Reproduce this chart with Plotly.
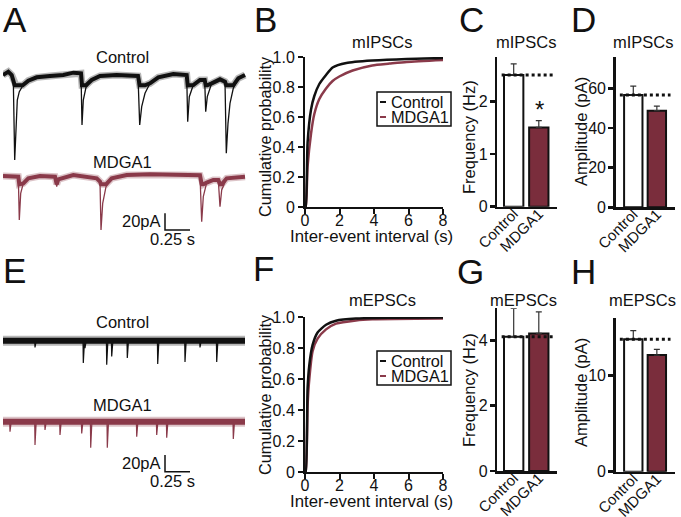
import plotly.graph_objects as go
import numpy as np

# ---------------- data ----------------
# Panel A: example mIPSC traces (time s, current pA relative to baseline)
a_ctrl_t = [0.0, 0.053, 0.087, 0.103, 0.117, 0.13, 0.143, 0.163, 0.197, 0.253, 0.337, 0.47, 0.603, 0.703,
            0.78, 0.79, 0.803, 0.83, 0.887, 0.97, 1.137, 1.35, 1.367, 1.387, 1.42, 1.47, 1.553, 1.703,
            1.837, 1.847, 1.863, 1.903, 1.97, 2.017, 2.027, 2.043, 2.087, 2.17, 2.22, 2.233, 2.25, 2.27,
            2.303, 2.353, 2.42]
a_ctrl_i = [2.4, 6.4, 2.4, -3.6, -99.6, -51.6, -27.6, -17.6, -10.8, -4.4, -0.4, 1.2, 2.4, 5.2,
            4.4, -57.6, -27.6, -12.4, -3.6, 1.2, 2.4, 1.2, -57.6, -35.6, -19.6, -7.6, -0.4, 3.6,
            2.4, -53.6, -23.6, -9.6, -3.6, -3.6, -41.6, -23.6, -7.6, -2.8, -5.6, -91.6, -55.6, -31.6,
            -13.6, -1.6, 2.4]
a_mdga_t = [0.0, 0.153, 0.163, 0.177, 0.203, 0.253, 0.37, 0.52, 0.537, 0.553, 0.703, 0.937, 0.97, 0.98,
            0.997, 1.03, 1.087, 1.237, 1.47, 1.803, 1.97, 1.987, 2.003, 2.037, 2.103, 2.153, 2.17, 2.187,
            2.237, 2.42]
a_mdga_i = [0.0, -0.8, -52.8, -20.8, -8.8, -2.8, 0.0, -0.8, -12.8, -4.0, 1.2, -2.8, -6.8, -64.8,
            -32.8, -12.8, -2.8, 1.2, 2.0, 1.2, 0.8, -54.8, -24.8, -8.0, -4.8, -4.8, -36.8, -16.8,
            -2.8, -0.8]

# Panel E: mEPSC events (time s, peak amplitude pA)
e_ctrl_t = [0.32, 0.82, 0.803, 1.037, 1.087, 1.243, 1.547, 1.82, 1.97, 2.137]
e_ctrl_a = [-8.0, -8.8, -26.8, -28.8, -18.8, -20.8, -28.0, -25.6, -8.0, -25.6]
e_mdga_t = [0.07, 0.32, 0.42, 0.57, 0.787, 0.877, 1.043, 1.337, 1.537, 1.637, 2.303]
e_mdga_a = [-12.0, -28.0, -10.0, -16.0, -14.0, -31.2, -31.2, -18.0, -16.0, -19.2, -20.8]
trace_dur = 2.42

# Panels B / F: cumulative probability of inter-event interval (s)
b_ctrl_x = [0, 0.04, 0.15, 0.35, 0.54, 0.83, 1.22, 1.6, 2.4, 3.9, 5.9, 8.0]
b_ctrl_y = [0, 0.0, 0.43, 0.65, 0.74, 0.82, 0.88, 0.93, 0.96, 0.976, 0.987, 0.993]
b_mdga_x = [0, 0.04, 0.15, 0.35, 0.54, 0.83, 1.22, 1.6, 1.99, 2.76, 3.9, 4.9, 5.9, 8.0]
b_mdga_y = [0, 0.0, 0.27, 0.49, 0.62, 0.72, 0.79, 0.84, 0.87, 0.91, 0.944, 0.956, 0.967, 0.98]
f_ctrl_x = [0, 0.04, 0.15, 0.25, 0.44, 0.73, 1.22, 1.8, 2.95, 5.0, 8.0]
f_ctrl_y = [0, 0.0, 0.54, 0.69, 0.82, 0.90, 0.95, 0.976, 0.99, 0.995, 0.997]
f_mdga_x = [0, 0.04, 0.15, 0.25, 0.44, 0.73, 1.22, 1.8, 2.95, 3.9, 8.0]
f_mdga_y = [0, 0.0, 0.43, 0.60, 0.78, 0.86, 0.92, 0.957, 0.978, 0.985, 0.99]

# Bar panels
groups = ["Control", "MDGA1"]
c_freq = [2.51, 1.51];  c_freq_err = [0.21, 0.13]     # mIPSC frequency (Hz)
d_amp = [56.6, 48.7];   d_amp_err = [4.5, 2.3]        # mIPSC amplitude (pA)
g_freq = [4.11, 4.21];  g_freq_err = [0.87, 0.66]     # mEPSC frequency (Hz)
h_amp = [13.8, 12.15];  h_amp_err = [0.9, 0.6]        # mEPSC amplitude (pA)

# ---------------- style ----------------
W, H = 681, 517
FONT = "Liberation Sans, Arial, Helvetica, sans-serif"
BLACK = "#111111"
RED_TR = "#8a3a4a"
RED_BAR = "#7a2d3c"

def fx(px):
    return px / W

def fy(py):
    return 1 - py / H

def dom_x(a, b):
    return [fx(a), fx(b)]

def dom_y(top, bottom):
    return [fy(bottom), fy(top)]

fig = go.Figure()
layout = dict(template="none", width=W, height=H, margin=dict(l=0, r=0, t=0, b=0, pad=0, autoexpand=False),
              paper_bgcolor="white", plot_bgcolor="rgba(0,0,0,0)",
              showlegend=False, font=dict(family=FONT, color=BLACK))
annotations = []
shapes = []

def ann(x, y, text, size=16, angle=0, xanchor="center", yanchor="middle"):
    annotations.append(dict(x=x, y=y, xref="paper", yref="paper", text=text, showarrow=False,
                            font=dict(size=size, family=FONT, color=BLACK), textangle=angle,
                            xanchor=xanchor, yanchor=yanchor))

# ---------------- trace panels (A, E) ----------------
PXPA = 190 / 228.0   # px per pA
for top_px, ax in [(55, 1), (300, 2)]:
    xa = "xaxis" if ax == 1 else "xaxis%d" % ax
    ya = "yaxis" if ax == 1 else "yaxis%d" % ax
    layout[xa] = dict(domain=dom_x(3, 248), range=[0, 2.45], visible=False, fixedrange=True, automargin=False)
    layout[ya] = dict(domain=dom_y(top_px, top_px + 190), range=[-228, 0], visible=False, fixedrange=True,
                      automargin=False)

def add_trace_line(t, i, off, color):
    i = np.array(i, dtype=float)
    band = np.maximum(i, -10) + off
    fig.add_trace(go.Scatter(x=t, y=band, mode="lines", xaxis="x", yaxis="y",
                             line=dict(color=color, width=7), opacity=0.3, hoverinfo="skip"))
    fig.add_trace(go.Scatter(x=t, y=band, mode="lines", xaxis="x", yaxis="y",
                             line=dict(color=color, width=4), hoverinfo="skip"))
    fig.add_trace(go.Scatter(x=t, y=i + off, mode="lines", xaxis="x", yaxis="y",
                             line=dict(color=color, width=1.3), hoverinfo="skip"))

add_trace_line(a_ctrl_t, a_ctrl_i, -(77 - 55) / PXPA, BLACK)
add_trace_line(a_mdga_t, a_mdga_i, -(176 - 55) / PXPA, RED_TR)

def add_events(ev_t, ev_a, off, color):
    order = np.argsort(ev_t)
    xs_, ys_ = [0.0], [off]
    for j in order:
        t0, a0 = ev_t[j], ev_a[j]
        xs_ += [t0 - 0.003, t0, t0 + 0.012]
        ys_ += [off, off + a0, off]
    xs_.append(trace_dur); ys_.append(off)
    fig.add_trace(go.Scatter(x=[0, trace_dur], y=[off, off], mode="lines", xaxis="x2", yaxis="y2",
                             line=dict(color=color, width=10), opacity=0.3, hoverinfo="skip"))
    fig.add_trace(go.Scatter(x=[0, trace_dur], y=[off, off], mode="lines", xaxis="x2", yaxis="y2",
                             line=dict(color=color, width=6), hoverinfo="skip"))
    fig.add_trace(go.Scatter(x=xs_, y=ys_, mode="lines", xaxis="x2", yaxis="y2",
                             line=dict(color=color, width=1.2), hoverinfo="skip"))

add_events(e_ctrl_t, e_ctrl_a, -(340.7 - 300) / PXPA, BLACK)
add_events(e_mdga_t, e_mdga_a, -(421.7 - 300) / PXPA, RED_TR)

# scale bars (20 pA, 0.25 s)
for axn, top_px, bar_bottom_px in [(1, 55, 230), (2, 300, 471.7)]:
    xs = "x" if axn == 1 else "x%d" % axn
    ys = "y" if axn == 1 else "y%d" % axn
    yb = -(bar_bottom_px - top_px) / PXPA
    t0 = (165 - 3) / 100
    fig.add_trace(go.Scatter(x=[t0, t0, t0 + 0.25], y=[yb + 20, yb, yb], mode="lines", xaxis=xs, yaxis=ys,
                             line=dict(color=BLACK, width=1.5), hoverinfo="skip"))
    ann(fx(163), fy(bar_bottom_px - 9), "20pA", size=16.5, xanchor="right")
    ann(fx(172), fy(bar_bottom_px + 9), "0.25 s", size=16.5)

ann(fx(122), fy(57), "Control", 16.5)
ann(fx(122), fy(162), "MDGA1", 16.5)
ann(fx(122), fy(322), "Control", 16.5)
ann(fx(122), fy(405), "MDGA1", 16.5)

# ---------------- cumulative panels (B, F) ----------------
def cum_axes(n, top, bottom):
    layout["xaxis%d" % n] = dict(domain=dom_x(305, 443), range=[0, 8], showline=True, linewidth=2,
                                 linecolor=BLACK, ticks="outside", ticklen=5, tickwidth=2, tickcolor=BLACK,
                                 tickvals=[0, 2, 4, 6, 8], showgrid=False, zeroline=False,
                                 ticklabelstandoff=-7,
                                 tickfont=dict(size=16), anchor="y%d" % n, fixedrange=True, automargin=False)
    layout["yaxis%d" % n] = dict(domain=dom_y(top, bottom), range=[0, 1.0], showline=True, linewidth=2,
                                 linecolor=BLACK, ticks="outside", ticklen=5, tickwidth=2, tickcolor=BLACK,
                                 tickvals=[0, 0.2, 0.4, 0.6, 0.8, 1.0],
                                 ticktext=["0", "0.2", "0.4", "0.6", "0.8", "1.0"], showgrid=False,
                                 zeroline=False, tickfont=dict(size=16), anchor="x%d" % n, fixedrange=True,
                                 automargin=False)

cum_axes(3, 57, 207)
cum_axes(4, 317, 472)
for n, cx, cy, mx, my in [(3, b_ctrl_x, b_ctrl_y, b_mdga_x, b_mdga_y), (4, f_ctrl_x, f_ctrl_y, f_mdga_x, f_mdga_y)]:
    fig.add_trace(go.Scatter(x=mx, y=my, mode="lines", xaxis="x%d" % n, yaxis="y%d" % n,
                             line=dict(color=RED_TR, width=2.5, shape="spline", smoothing=0.6),
                             hoverinfo="skip", cliponaxis=False))
    fig.add_trace(go.Scatter(x=cx, y=cy, mode="lines", xaxis="x%d" % n, yaxis="y%d" % n,
                             line=dict(color=BLACK, width=2.5, shape="spline", smoothing=0.6),
                             hoverinfo="skip", cliponaxis=False))

for top_box, title_y, ytitle_c, xtitle_y, lbl in [(92, 42, 137, 236, "mIPSCs"), (351, 300, 395, 501, "mEPSCs")]:
    shapes.append(dict(type="rect", xref="paper", yref="paper", x0=fx(377), x1=fx(451),
                       y0=fy(top_box + 34), y1=fy(top_box), line=dict(color=BLACK, width=1.5)))
    for k, (name, col) in enumerate([("Control", BLACK), ("MDGA1", RED_TR)]):
        yy = top_box + 10 + k * 15
        shapes.append(dict(type="line", xref="paper", yref="paper", x0=fx(380), x1=fx(386),
                           y0=fy(yy), y1=fy(yy), line=dict(color=col, width=2)))
        ann(fx(388.5), fy(yy), name, 16.3, xanchor="left")
    ann(fx(382), fy(title_y), lbl, 16.5)
    ann(fx(265), fy(ytitle_c), "Cumulative probability", 16.3, angle=-90)
    ann(fx(371), fy(xtitle_y), "Inter-event interval (s)", 16.8)

# ---------------- bar panels (C, D, G, H) ----------------
def bar_panel(n, xdom, xr, ydom, yr, tickvals, vals, errs, width, dot_x):
    layout["xaxis%d" % n] = dict(domain=dom_x(*xdom), range=xr, showline=True, linewidth=2.5, linecolor=BLACK,
                                 ticks="", tickvals=[0, 1], ticktext=groups, tickangle=-45,
                                 ticklabelstandoff=-10,
                                 tickfont=dict(size=15), showgrid=False, zeroline=False,
                                 anchor="y%d" % n, fixedrange=True, automargin=False)
    layout["yaxis%d" % n] = dict(domain=dom_y(*ydom), range=yr, showline=True, linewidth=2.5, linecolor=BLACK,
                                 ticks="outside", ticklen=5, tickwidth=2.5, tickcolor=BLACK,
                                 ticklabelstandoff=-1,
                                 tickvals=tickvals, tickfont=dict(size=16), showgrid=False, zeroline=False,
                                 anchor="x%d" % n, fixedrange=True, automargin=False)
    fig.add_trace(go.Bar(x=[0, 1], y=vals, width=width, xaxis="x%d" % n, yaxis="y%d" % n,
                         marker=dict(color=["white", RED_BAR], line=dict(color=BLACK, width=2)),
                         error_y=dict(type="data", array=errs, arrayminus=[0, 0], symmetric=False,
                                      color="#333333", thickness=1.2, width=3),
                         hoverinfo="skip"))
    fig.add_trace(go.Scatter(x=dot_x, y=[vals[0], vals[0]], mode="lines", xaxis="x%d" % n, yaxis="y%d" % n,
                             line=dict(color=BLACK, width=3, dash="dot"), hoverinfo="skip"))

bar_panel(5, (497.3, 556.7), [-0.653, 1.713], (56.7, 206.7), [0, 2.857], [0, 1, 2],
          c_freq, c_freq_err, 0.77, [-0.48, 1.58])
bar_panel(6, (615.7, 675), [-0.746, 1.77], (56.7, 207.3), [0, 75.9], [0, 20, 40, 60],
          d_amp, d_amp_err, 0.78, [-0.57, 1.58])
bar_panel(7, (497.3, 556.7), [-0.653, 1.713], (308.3, 471), [0, 4.98], [0, 2, 4],
          g_freq, g_freq_err, 0.77, [-0.48, 1.58])
bar_panel(8, (615.7, 675), [-0.746, 1.77], (318.3, 471.7), [0, 15.98], [0, 10],
          h_amp, h_amp_err, 0.78, [-0.57, 1.58])

ann(fx(526), fy(42), "mIPSCs", 16.5)
ann(fx(643), fy(42), "mIPSCs", 16.5)
ann(fx(523), fy(300), "mEPSCs", 16.5)
ann(fx(642), fy(300), "mEPSCs", 16.5)
ann(fx(469), fy(137), "Frequency (Hz)", 16.5, angle=-90)
ann(fx(581), fy(132), "Amplitude (pA)", 16.5, angle=-90)
ann(fx(469), fy(390), "Frequency (Hz)", 16.5, angle=-90)
ann(fx(581), fy(393), "Amplitude (pA)", 16.5, angle=-90)
ann(fx(539), fy(110), "*", 24)

# panel letters
for L, x, y in [("A", 15, 20), ("B", 265, 20), ("C", 472, 20), ("D", 583, 20),
                ("E", 14, 270), ("F", 263, 268), ("G", 470, 271), ("H", 583, 271)]:
    ann(fx(x), fy(y), L, 35)

layout["annotations"] = annotations
layout["shapes"] = shapes
fig.update_layout(**layout)
fig.write_html("out.html", config={"displayModeBar": False, "staticPlot": True},
               post_script="document.body.style.margin='0';document.body.style.padding='0';")
